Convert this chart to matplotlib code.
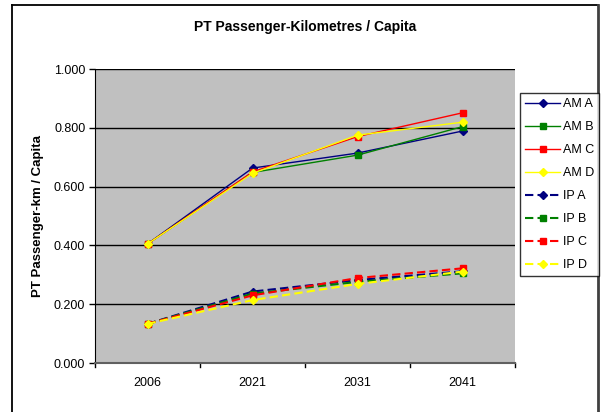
import matplotlib
matplotlib.use("Agg")
import matplotlib.pyplot as plt
from matplotlib.lines import Line2D

plt.rcParams['font.family'] = ['Liberation Sans', 'DejaVu Sans']

years = ["2006", "2021", "2031", "2041"]
am_a = [0.405, 0.663, 0.714, 0.789]
am_b = [0.405, 0.648, 0.707, 0.804]
am_c = [0.405, 0.650, 0.770, 0.851]
am_d = [0.405, 0.645, 0.775, 0.819]
ip_a = [0.133, 0.243, 0.282, 0.312]
ip_b = [0.133, 0.236, 0.276, 0.305]
ip_c = [0.133, 0.230, 0.289, 0.322]
ip_d = [0.133, 0.214, 0.269, 0.311]
yticks = [0.0, 0.2, 0.4, 0.6, 0.8, 1.0]

W, H = 605, 412
fig = plt.figure(figsize=(W / 100, H / 100), dpi=100)
fig.patch.set_facecolor("white")

# outer chart frame (left, top, right)
def fx(px): return px / W
def fy(py): return 1 - py / H
fig.add_artist(Line2D([fx(12), fx(12)], [fy(412), fy(4.5)], color="black", lw=1.3))
fig.add_artist(Line2D([fx(12), fx(598)], [fy(4.5), fy(4.5)], color="black", lw=1.3))
fig.add_artist(Line2D([fx(598), fx(598)], [fy(4.5), fy(412)], color="#404040", lw=2))

left, right, top, bottom = 95, 515, 69, 363
ax = fig.add_axes([fx(left), fy(bottom), (right - left) / W, (bottom - top) / H])
ax.set_facecolor("#c0c0c0")

x = list(range(len(years)))
series = [
    ("AM A", am_a, "#000080", "D", "-"),
    ("AM B", am_b, "#008000", "s", "-"),
    ("AM C", am_c, "#ff0000", "s", "-"),
    ("AM D", am_d, "#ffff00", "D", "-"),
    ("IP A", ip_a, "#000080", "D", (0, (4, 2))),
    ("IP B", ip_b, "#008000", "s", (0, (4, 2))),
    ("IP C", ip_c, "#ff0000", "s", (0, (4, 2))),
    ("IP D", ip_d, "#ffff00", "D", (0, (4, 2))),
]
for name, vals, col, mk, ls in series:
    lw = 1.0 if ls == "-" else 1.5
    ms = 3.8 if mk == "D" else 4.2
    ax.plot(x, vals, color=col, linestyle=ls, lw=lw, marker=mk, ms=ms,
            markerfacecolor=col, markeredgecolor=col, label=name, zorder=3)

ax.set_xlim(-0.5, 3.5)
ax.set_ylim(0, 1.0)
ax.set_yticks(yticks)
ax.set_yticklabels([f"{v:.3f}" for v in yticks], fontsize=9)
ax.set_xticks(x)
ax.set_xticklabels(years, fontsize=9)
ax.tick_params(axis="x", length=0, pad=10)
ax.tick_params(axis="y", length=4, direction="out", pad=3, width=1)
ax.grid(axis="y", color="black", lw=1)
ax.set_axisbelow(True)
for s in ["top", "right"]:
    ax.spines[s].set_visible(False)
ax.spines["left"].set_color("black")
ax.spines["bottom"].set_color("#606060")
ax.spines["bottom"].set_linewidth(1.5)
# tick marks at category boundaries
for b in [-0.5, 0.5, 1.5, 2.5, 3.5]:
    ax.plot([b, b], [0, -0.015], color="black", lw=1, clip_on=False)

ax.set_ylabel("PT Passenger-km / Capita", fontsize=9.5, fontweight="bold", labelpad=7)
fig.text(fx(305), fy(27), "PT Passenger-Kilometres / Capita", fontsize=10,
         fontweight="bold", ha="center", va="center")

leg = fig.legend(loc="upper left", bbox_to_anchor=(fx(520), fy(93)),
                 bbox_transform=fig.transFigure, fontsize=9, frameon=True,
                 fancybox=False, edgecolor="black", handlelength=2.8,
                 handletextpad=0.25, labelspacing=0.88, borderpad=0.4,
                 borderaxespad=0)
leg.get_frame().set_linewidth(1)

fig.savefig("out.png", dpi=100)
